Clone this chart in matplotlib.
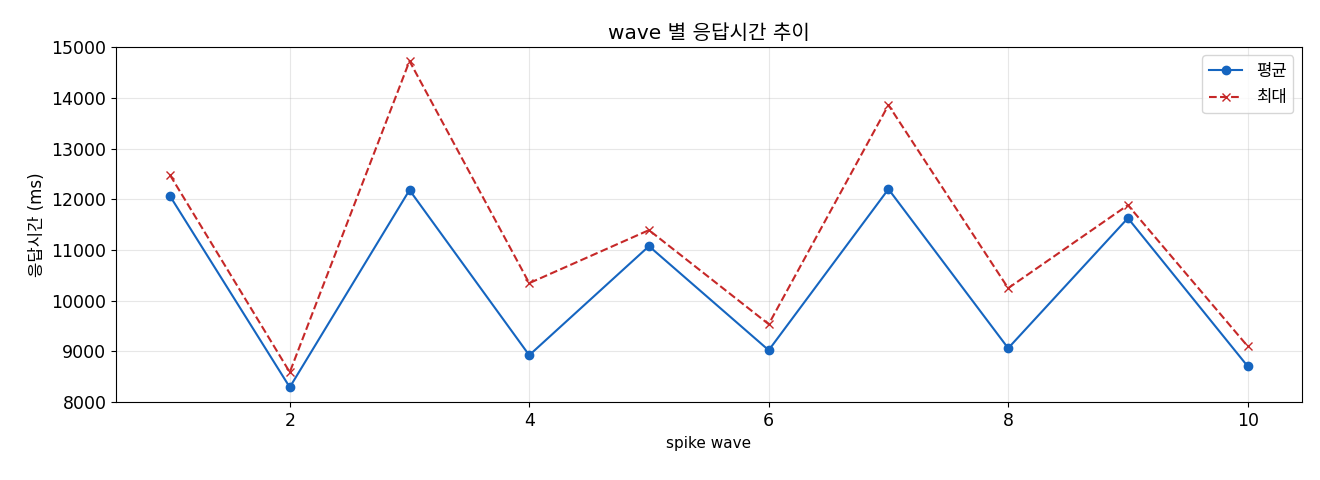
import matplotlib.pyplot as plt

plt.rcParams['font.family'] = ['DejaVu Sans', 'Noto Sans CJK KR']

# wave 별 응답시간 (ms)
waves = [1, 2, 3, 4, 5, 6, 7, 8, 9, 10]
avg_ms = [12062, 8296, 12181, 8927, 11076, 9025, 12200, 9065, 11628, 8710]
max_ms = [12476, 8592, 14724, 10347, 11392, 9538, 13857, 10248, 11885, 9104]

fig, ax = plt.subplots(figsize=(13.2, 4.8), dpi=100)

ax.plot(waves, avg_ms, marker='o', color='#1565C0', label='평균')
ax.plot(waves, max_ms, marker='x', linestyle='--', color='#C62828', label='최대')

ax.set_title('wave 별 응답시간 추이', fontsize=14.5)
ax.set_xlabel('spike wave', fontsize=11)
ax.set_ylabel('응답시간 (ms)', fontsize=12)
ax.tick_params(labelsize=12.5)
ax.set_ylim(8000, 15000)
ax.grid(True, alpha=0.3)
ax.legend(loc='upper right', fontsize=12)

fig.subplots_adjust(left=0.088, right=0.986, top=0.902, bottom=0.162)
plt.savefig('out.png', dpi=100)
